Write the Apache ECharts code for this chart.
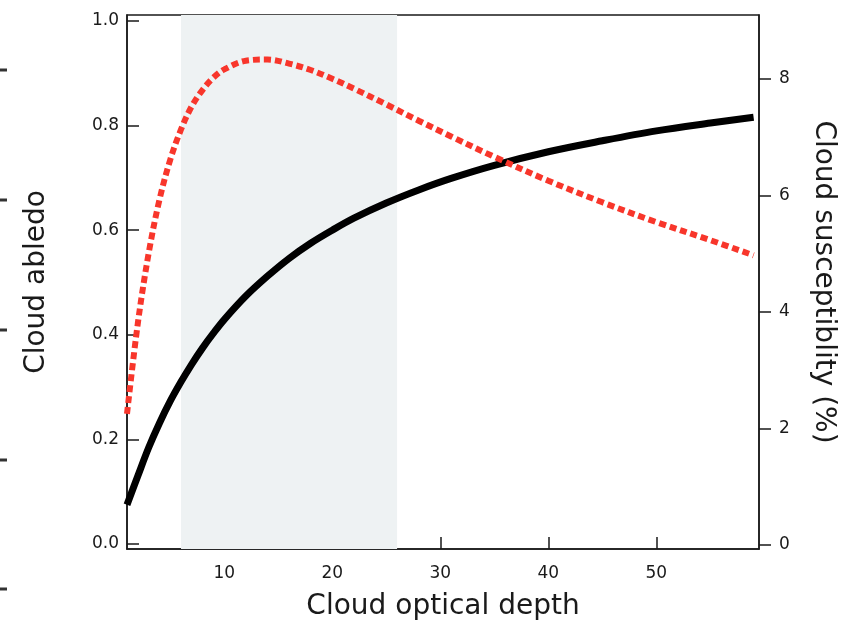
<!DOCTYPE html>
<html>
<head>
<meta charset="utf-8">
<script src="https://cdn.jsdelivr.net/npm/echarts@6/dist/echarts.min.js"></script>
<style>
  html, body { margin: 0; padding: 0; background: #fff; }
  #chart { width: 854px; height: 636px; }
</style>
</head>
<body>
<div id="chart"></div>
<script>
// cloud optical depth samples
var depth = [1, 2, 3, 4, 5, 6, 7, 8, 9, 10, 12, 14, 16, 18, 20, 22, 25, 28, 31, 35, 40, 45, 50, 55, 59];
// cloud albedo (left axis)
var albedo = [0.075, 0.13, 0.184, 0.231, 0.273, 0.31, 0.344, 0.375, 0.403, 0.429, 0.474, 0.512, 0.546, 0.575,
              0.600, 0.623, 0.652, 0.677, 0.699, 0.724, 0.750, 0.771, 0.790, 0.805, 0.816];
// cloud susceptibility in % (right axis)
var suscept = [2.25, 3.8, 5.0, 5.92, 6.61, 7.13, 7.53, 7.81, 8.02, 8.16, 8.31, 8.33, 8.26, 8.15,
               8.0, 7.83, 7.56, 7.28, 7.01, 6.66, 6.25, 5.88, 5.54, 5.23, 4.97];
// shaded optical depth range
var shadeRange = [6, 26];
var xTicks = [10, 20, 30, 40, 50];
var leftTicks = [0, 0.2, 0.4, 0.6, 0.8, 1.0];
var rightTicks = [0, 2, 4, 6, 8];

var font = 'DejaVu Sans';
var ink = '#1a1a1a';

function pairs(xs, ys) {
    var out = [];
    for (var i = 0; i < xs.length; i++) out.push([xs[i], ys[i]]);
    return out;
}

var myChart = echarts.init(document.getElementById('chart'));

// little dashes cut off at the left edge of the original figure
var edgeMarks = [70, 200, 330, 460, 589].map(function (y) {
    return { type: 'rect', shape: { x: 0, y: y - 1.5, width: 7, height: 3 }, style: { fill: '#333' } };
});

option = {
    backgroundColor: '#fff',
    animation: false,
    grid: {
        left: 127, right: 95, top: 15, bottom: 87,
        show: true, borderColor: ink, borderWidth: 1.5, backgroundColor: 'transparent'
    },
    graphic: edgeMarks,
    xAxis: {
        type: 'value',
        min: 1, max: 59.5,
        name: 'Cloud optical depth',
        nameLocation: 'middle',
        nameGap: 44,
        nameTextStyle: { fontFamily: font, fontSize: 28, color: ink },
        splitLine: { show: false },
        axisLine: { onZero: false, lineStyle: { color: ink, width: 1.5 } },
        axisTick: { inside: true, length: 12, customValues: xTicks, lineStyle: { color: ink, width: 1.5 } },
        axisLabel: { customValues: xTicks, margin: 16, fontFamily: font, fontSize: 17, color: ink }
    },
    yAxis: [
        {
            type: 'value',
            min: -0.0096, max: 1.0115,
            name: 'Cloud abledo',
            nameLocation: 'middle',
            nameGap: 76,
            nameTextStyle: { fontFamily: font, fontSize: 28, color: ink },
            splitLine: { show: false },
            axisLine: { show: true, onZero: false, lineStyle: { color: ink, width: 1.5 } },
            axisTick: { show: true, inside: true, length: 12, customValues: leftTicks, lineStyle: { color: ink, width: 1.5 } },
            axisLabel: {
                customValues: leftTicks, margin: 8, fontFamily: font, fontSize: 17, color: ink,
                formatter: function (v) { return v.toFixed(1); }
            }
        },
        {
            type: 'value',
            position: 'right',
            min: -0.069, max: 9.094,
            name: 'Cloud susceptiblity (%)',
            nameLocation: 'middle',
            nameGap: 50,
            nameRotate: -90,
            nameTextStyle: { fontFamily: font, fontSize: 28, color: ink },
            splitLine: { show: false },
            axisLine: { show: true, onZero: false, lineStyle: { color: ink, width: 1.5 } },
            axisTick: { show: true, inside: false, length: 12, customValues: rightTicks, lineStyle: { color: ink, width: 1.5 } },
            axisLabel: { customValues: rightTicks, margin: 20, fontFamily: font, fontSize: 17, color: ink }
        }
    ],
    series: [
        {
            name: 'albedo',
            type: 'line',
            yAxisIndex: 0,
            data: pairs(depth, albedo),
            smooth: 0.35,
            showSymbol: false,
            lineStyle: { color: '#000', width: 7 },
            z: 3,
            markArea: {
                silent: true,
                itemStyle: { color: '#eef2f3' },
                data: [[{ xAxis: shadeRange[0] }, { xAxis: shadeRange[1] }]]
            }
        },
        {
            name: 'susceptibility',
            type: 'line',
            yAxisIndex: 1,
            data: pairs(depth, suscept),
            smooth: 0.35,
            showSymbol: false,
            lineStyle: { color: '#f8362b', width: 6, type: [7, 4] },
            z: 4
        }
    ]
};

myChart.setOption(option);
</script>
</body>
</html>
